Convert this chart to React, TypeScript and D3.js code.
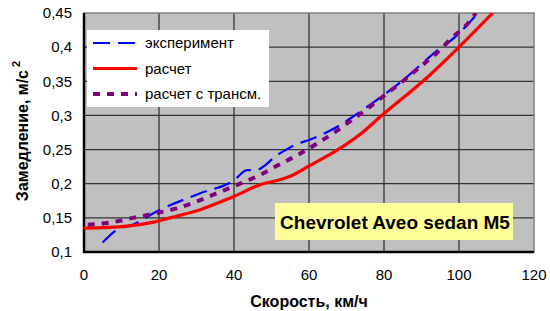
import * as d3 from "d3";

const X_TICKS = [0, 20, 40, 60, 80, 100, 120];
const Y_TICKS = [0.1, 0.15, 0.2, 0.25, 0.3, 0.35, 0.4, 0.45];

// эксперимент
const expX = [5, 8.7, 13, 20, 31, 40, 43.5, 46, 48.3, 51, 54, 56.3, 60, 67.4, 70.3, 79.4, 84.7, 94.4, 99, 105];
const expY = [0.114, 0.132, 0.14, 0.161, 0.186, 0.205, 0.22, 0.22, 0.227, 0.24, 0.25, 0.257, 0.264, 0.283, 0.293, 0.328, 0.35, 0.396, 0.415, 0.45];

// расчет
const calcX = [0, 11.4, 20.3, 23, 31, 39.8, 47.8, 51, 55, 60, 65, 70, 74, 79, 91.8, 99.8, 109];
const calcY = [0.135, 0.138, 0.146, 0.15, 0.162, 0.181, 0.2, 0.204, 0.211, 0.226, 0.241, 0.258, 0.274, 0.298, 0.357, 0.399, 0.45];

// расчет с трансм.
const transX = [1, 7.9, 13, 19.4, 24.7, 31, 35.4, 41.6, 47, 51.7, 57, 61.6, 67, 71.4, 76.3, 80.3, 85, 89.6, 94, 98, 102.4, 104.5];
const transY = [0.14, 0.144, 0.15, 0.157, 0.164, 0.176, 0.186, 0.2, 0.213, 0.227, 0.242, 0.257, 0.276, 0.293, 0.313, 0.33, 0.35, 0.371, 0.391, 0.413, 0.435, 0.45];

const LEGEND = ["эксперимент", "расчет", "расчет с трансм."];

const W = 550;
const H = 311;
const M = { top: 13, right: 16, bottom: 59, left: 84 };

export default function App() {
  const x = d3.scaleLinear().domain([0, 120]).range([M.left, W - M.right]);
  const y = d3.scaleLinear().domain([0.1, 0.45]).range([H - M.bottom, M.top]);

  const line = d3
    .line<[number, number]>()
    .x((d) => x(d[0]))
    .y((d) => y(d[1]))
    .curve(d3.curveMonotoneX);

  const zip = (xs: number[], ys: number[]) => xs.map((v, i) => [v, ys[i]] as [number, number]);

  const series = [
    { name: LEGEND[0], data: zip(expX, expY), color: "#0000FF", width: 2.2, dash: "17,8" },
    { name: LEGEND[1], data: zip(calcX, calcY), color: "#FF0000", width: 3.2, dash: "" },
    { name: LEGEND[2], data: zip(transX, transY), color: "#800080", width: 4, dash: "7,7" },
  ];

  const x0 = M.left;
  const x1 = W - M.right;
  const y0 = H - M.bottom;
  const y1 = M.top;

  return (
    <svg
      width={W}
      height={H}
      style={{ position: "absolute", left: 0, top: 0, fontFamily: "Liberation Sans, Arial, sans-serif" }}
    >
      <defs>
        <clipPath id="plot">
          <rect x={x0} y={y1} width={x1 - x0} height={y0 - y1} />
        </clipPath>
      </defs>
      <rect width={W} height={H} fill="#fff" />
      <rect x={x0} y={y1} width={x1 - x0} height={y0 - y1} fill="#C0C0C0" />

      {Y_TICKS.slice(1, -1).map((t) => (
        <line key={t} x1={x0} x2={x1} y1={y(t)} y2={y(t)} stroke="#333" strokeWidth={1.3} />
      ))}
      {X_TICKS.slice(1, -1).map((t) => (
        <line key={t} x1={x(t)} x2={x(t)} y1={y1} y2={y0} stroke="#333" strokeWidth={1.3} />
      ))}

      <rect x={x0} y={y1} width={x1 - x0} height={y0 - y1} fill="none" stroke="#808080" strokeWidth={1.5} />
      <line x1={x0} x2={x0} y1={y1} y2={y0 + 1} stroke="#000" strokeWidth={2.5} />
      <line x1={x0 - 1} x2={x1} y1={y0} y2={y0} stroke="#000" strokeWidth={2.5} />

      <g clipPath="url(#plot)">
        {series.map((s) => (
          <path
            key={s.name}
            d={line(s.data) ?? ""}
            fill="none"
            stroke={s.color}
            strokeWidth={s.width}
            strokeDasharray={s.dash || undefined}
          />
        ))}
      </g>

      {Y_TICKS.map((t) => (
        <text key={t} x={72} y={y(t)} dy="0.35em" textAnchor="end" fontSize={15} fill="#000">
          {String(Math.round(t * 100) / 100).replace(".", ",")}
        </text>
      ))}
      {X_TICKS.map((t) => (
        <text key={t} x={x(t)} y={280} textAnchor="middle" fontSize={15} fill="#000">
          {t}
        </text>
      ))}

      <text x={309} y={307} textAnchor="middle" fontSize={16} fontWeight="bold">
        Скорость, км/ч
      </text>
      <text transform="translate(28,131) rotate(-90)" textAnchor="middle" fontSize={16} fontWeight="bold">
        Замедление, м/с
        <tspan fontSize={11} dx={3} dy={-8}>
          2
        </tspan>
      </text>

      <g>
        <rect x={87} y={30} width={182} height={77} fill="#fff" />
        {series.map((s, i) => {
          const cy = 43 + i * 25.5;
          return (
            <g key={s.name}>
              <line
                x1={93}
                x2={137}
                y1={cy}
                y2={cy}
                stroke={s.color}
                strokeWidth={s.width}
                strokeDasharray={s.dash || undefined}
              />
              <text x={145} y={cy} dy="0.35em" fontSize={15}>
                {s.name}
              </text>
            </g>
          );
        })}
      </g>

      <rect x={275} y={203} width={238} height={37} fill="#FFFF99" />
      <text x={395} y={222} dy="0.35em" textAnchor="middle" fontSize={19} fontWeight="bold">
        Chevrolet Aveo sedan M5
      </text>
    </svg>
  );
}
